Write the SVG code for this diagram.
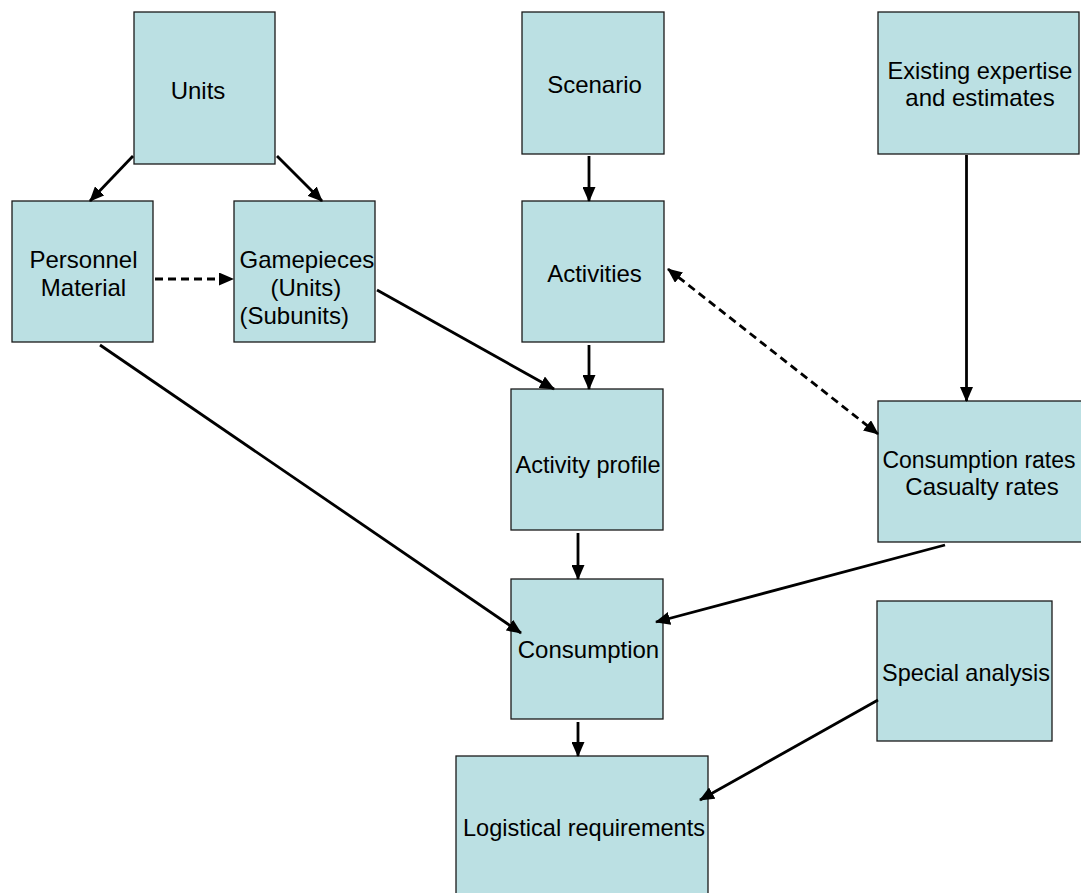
<svg xmlns="http://www.w3.org/2000/svg" width="1081" height="893" viewBox="0 0 1081 893">
<defs>
<style>
.box{fill:#BBE0E3;stroke:#1a1a1a;stroke-width:1.3}
.lbl{font-family:"Liberation Sans",Arial,sans-serif;font-size:24px;fill:#000;text-anchor:middle}
.lblS{font-family:"Liberation Sans",Arial,sans-serif;font-size:24px;fill:#000}
.c{stroke:#000;stroke-width:2.8;fill:none;marker-end:url(#ah)}
.d{stroke-dasharray:8,5}
</style>
<marker id="ah" markerUnits="userSpaceOnUse" markerWidth="15" markerHeight="13" refX="14" refY="6.5" orient="auto-start-reverse" viewBox="0 0 15 13">
<path d="M0,0 L15,6.5 L0,13 z" fill="#000"/>
</marker>
</defs>
<rect width="1081" height="893" fill="#fff"/>
<g id="units"><rect class="box" x="134" y="12" width="141" height="152"/><text class="lbl" x="198" y="99">Units</text></g>
<g id="personnel"><rect class="box" x="12" y="201" width="141" height="141"/><text class="lbl" x="83.5" y="268">Personnel</text><text class="lbl" x="83.5" y="296">Material</text></g>
<g id="gamepieces"><rect class="box" x="234" y="201" width="141" height="141"/><text class="lblS" x="239.5" y="268">Gamepieces</text><text class="lblS" x="270.5" y="296">(Units)</text><text class="lblS" x="239.5" y="324">(Subunits)</text></g>
<g id="scenario"><rect class="box" x="522" y="12" width="142" height="142"/><text class="lbl" x="594.5" y="93">Scenario</text></g>
<g id="activities"><rect class="box" x="522" y="201" width="142" height="141"/><text class="lbl" x="594.5" y="282">Activities</text></g>
<g id="existing"><rect class="box" x="878" y="12" width="201" height="142"/><text class="lbl" x="980" y="79" textLength="185" lengthAdjust="spacingAndGlyphs">Existing expertise</text><text class="lbl" x="980" y="106">and estimates</text></g>
<g id="activityprofile"><rect class="box" x="511" y="389" width="152" height="141"/><text class="lbl" x="588" y="473" textLength="145" lengthAdjust="spacingAndGlyphs">Activity profile</text></g>
<g id="rates"><rect class="box" x="878" y="401" width="208" height="141"/><text class="lbl" x="979" y="468" style="font-size:23px">Consumption rates</text><text class="lbl" x="982" y="495">Casualty rates</text></g>
<g id="consumption"><rect class="box" x="511" y="579" width="152" height="140"/><text class="lbl" x="588.5" y="658">Consumption</text></g>
<g id="special"><rect class="box" x="877" y="601" width="175" height="140"/><text class="lbl" x="966" y="681" textLength="168" lengthAdjust="spacingAndGlyphs">Special analysis</text></g>
<g id="logistical"><rect class="box" x="456" y="756" width="252" height="150"/><text class="lbl" x="584" y="836" textLength="242" lengthAdjust="spacingAndGlyphs">Logistical requirements</text></g>
<g id="connectors">
<path class="c" d="M133,156 L90,201"/>
<path class="c" d="M277,156 L322,201"/>
<path class="c d" d="M155,279 L233,279"/>
<path class="c" d="M377,290 L554,389"/>
<path class="c" d="M589,156 L589,201"/>
<path class="c" d="M589,345 L589,389"/>
<path class="c d" style="marker-start:url(#ah)" d="M668,269 L878,434"/>
<path class="c" d="M966.5,155 L966.5,401"/>
<path class="c" d="M578,533 L578,579"/>
<path class="c" d="M100,345 L521,633"/>
<path class="c" d="M945,545 L656,622"/>
<path class="c" d="M578,722 L578,756"/>
<path class="c" d="M878,700 L700,800"/>
</g>
</svg>
